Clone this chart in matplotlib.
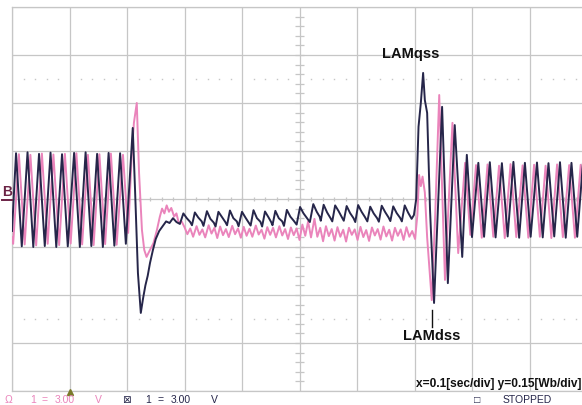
import matplotlib.pyplot as plt
import numpy as np

# scope screen: 0.1 s/div, 0.15 Wb/div
# (time [s], flux [Wb]) vertices of each trace

# dark trace (LAMqss)
dark_pre = [(0.000, -0.100), (0.007, 0.143), (0.017, -0.148), (0.027, 0.146), (0.037, -0.150),
            (0.047, 0.141), (0.057, -0.147), (0.067, 0.145), (0.077, -0.150), (0.087, 0.140),
            (0.097, -0.148), (0.108, 0.144), (0.118, -0.150), (0.128, 0.146), (0.138, -0.147),
            (0.148, 0.141), (0.158, -0.150), (0.168, 0.144), (0.178, -0.146), (0.188, 0.143),
            (0.198, -0.140)]
dark_step = [(0.210, 0.222), (0.214, 0.028), (0.219, -0.231), (0.224, -0.356), (0.228, -0.310),
             (0.232, -0.270), (0.236, -0.240), (0.240, -0.200), (0.245, -0.160), (0.250, -0.125),
             (0.256, -0.100), (0.262, -0.085), (0.268, -0.070), (0.274, -0.075), (0.280, -0.060),
             (0.286, -0.072)]
dark_hold = [(0.292, -0.078), (0.298, -0.045), (0.304, -0.060), (0.310, -0.072),
             (0.313, -0.082), (0.318, -0.042), (0.324, -0.058), (0.330, -0.070),
             (0.333, -0.084), (0.339, -0.038), (0.345, -0.062), (0.351, -0.074),
             (0.354, -0.086), (0.359, -0.040), (0.365, -0.056), (0.371, -0.072),
             (0.374, -0.082), (0.379, -0.036), (0.385, -0.060), (0.391, -0.070),
             (0.394, -0.085), (0.400, -0.040), (0.406, -0.058), (0.412, -0.075),
             (0.415, -0.083), (0.420, -0.035), (0.426, -0.060), (0.432, -0.071),
             (0.435, -0.086), (0.440, -0.039), (0.446, -0.057), (0.451, -0.073),
             (0.453, -0.082), (0.458, -0.037), (0.464, -0.060), (0.470, -0.070),
             (0.473, -0.084), (0.478, -0.034), (0.484, -0.055), (0.490, -0.068),
             (0.495, -0.080), (0.501, -0.025), (0.507, -0.045), (0.513, -0.060),
             (0.518, -0.072), (0.524, -0.016), (0.530, -0.040), (0.535, -0.055),
             (0.537, -0.068), (0.542, -0.018), (0.548, -0.042), (0.554, -0.060),
             (0.557, -0.070), (0.562, -0.020), (0.568, -0.038), (0.574, -0.058),
             (0.577, -0.068), (0.582, -0.022), (0.588, -0.044), (0.594, -0.060),
             (0.597, -0.072), (0.602, -0.019), (0.608, -0.040), (0.614, -0.057),
             (0.618, -0.070), (0.623, -0.024), (0.629, -0.045), (0.635, -0.060),
             (0.638, -0.071), (0.643, -0.021), (0.649, -0.041), (0.655, -0.058),
             (0.658, -0.069), (0.663, -0.023), (0.669, -0.044), (0.675, -0.059),
             (0.678, -0.070), (0.683, -0.020), (0.689, -0.043), (0.695, -0.062),
             (0.699, -0.050)]
dark_swing = [(0.703, 0.000), (0.707, 0.226), (0.711, 0.300), (0.715, 0.394), (0.718, 0.309),
              (0.722, 0.269), (0.727, -0.034), (0.734, -0.325), (0.748, 0.288), (0.758, -0.263),
              (0.770, 0.231), (0.783, -0.181), (0.791, 0.138), (0.800, -0.119)]
dark_post = [(0.811, 0.113), (0.821, -0.118), (0.831, 0.115), (0.841, -0.120), (0.852, 0.112),
             (0.862, -0.117), (0.872, 0.116), (0.882, -0.121), (0.892, 0.113), (0.902, -0.118),
             (0.913, 0.114), (0.923, -0.120), (0.933, 0.112), (0.943, -0.117), (0.953, 0.115),
             (0.963, -0.121), (0.973, 0.113), (0.983, -0.118), (0.993, 0.114), (1.003, -0.120)]

# pink trace (LAMdss)
pink_pre = [(0.000, -0.120), (0.002, -0.140), (0.012, 0.140), (0.022, -0.142), (0.032, 0.138),
            (0.042, -0.145), (0.052, 0.142), (0.062, -0.140), (0.072, 0.139), (0.082, -0.144),
            (0.092, 0.141), (0.102, -0.139), (0.112, 0.143), (0.122, -0.142), (0.132, 0.138),
            (0.142, -0.144), (0.152, 0.140), (0.162, -0.141), (0.172, 0.142), (0.182, -0.143),
            (0.193, 0.138), (0.202, -0.106)]
pink_step = [(0.208, 0.130), (0.212, 0.238), (0.217, 0.300), (0.221, 0.080), (0.226, -0.097),
             (0.230, -0.159), (0.234, -0.181), (0.240, -0.159), (0.246, -0.138), (0.252, -0.097),
             (0.257, -0.056), (0.261, -0.030), (0.265, -0.045), (0.269, -0.020), (0.273, -0.040),
             (0.277, -0.028), (0.282, -0.055), (0.286, -0.045), (0.290, -0.075), (0.295, -0.070)]
pink_hold = [(0.300, -0.088), (0.305, -0.110), (0.310, -0.092), (0.315, -0.118), (0.321, -0.085),
             (0.326, -0.112), (0.331, -0.095), (0.336, -0.120), (0.342, -0.082), (0.347, -0.108),
             (0.352, -0.090), (0.357, -0.122), (0.362, -0.086), (0.367, -0.113), (0.372, -0.094),
             (0.377, -0.119), (0.383, -0.084), (0.388, -0.110), (0.393, -0.092), (0.398, -0.121),
             (0.403, -0.087), (0.408, -0.115), (0.413, -0.093), (0.418, -0.118), (0.424, -0.083),
             (0.429, -0.111), (0.434, -0.096), (0.439, -0.124), (0.444, -0.088), (0.449, -0.112),
             (0.454, -0.090), (0.459, -0.120), (0.465, -0.085), (0.470, -0.114), (0.475, -0.094),
             (0.480, -0.125), (0.485, -0.089), (0.490, -0.113), (0.495, -0.092), (0.500, -0.128),
             (0.505, -0.080), (0.510, -0.115), (0.515, -0.070), (0.520, -0.120), (0.526, -0.062),
             (0.531, -0.118), (0.536, -0.090), (0.541, -0.132), (0.546, -0.085), (0.551, -0.116),
             (0.556, -0.094), (0.561, -0.130), (0.566, -0.088), (0.571, -0.118), (0.576, -0.096),
             (0.581, -0.133), (0.586, -0.090), (0.591, -0.112), (0.596, -0.095), (0.601, -0.128),
             (0.606, -0.087), (0.611, -0.119), (0.616, -0.097), (0.621, -0.131), (0.626, -0.089),
             (0.631, -0.114), (0.636, -0.094), (0.641, -0.127), (0.646, -0.086), (0.651, -0.117),
             (0.656, -0.096), (0.661, -0.130), (0.666, -0.090), (0.671, -0.115), (0.676, -0.095),
             (0.681, -0.128), (0.686, -0.088), (0.691, -0.118), (0.696, -0.100), (0.701, -0.125)]
pink_swing = [(0.705, -0.050), (0.708, 0.075), (0.711, 0.040), (0.714, 0.070), (0.718, 0.020),
              (0.722, -0.120), (0.730, -0.316), (0.736, -0.050), (0.743, 0.325), (0.753, -0.253),
              (0.766, 0.238), (0.776, -0.169), (0.788, 0.113), (0.797, -0.112)]
pink_post = [(0.807, 0.106), (0.817, -0.121), (0.827, 0.108), (0.837, -0.118), (0.847, 0.104),
             (0.857, -0.122), (0.867, 0.109), (0.877, -0.119), (0.888, 0.105), (0.898, -0.121),
             (0.908, 0.107), (0.918, -0.118), (0.928, 0.104), (0.938, -0.122), (0.948, 0.108),
             (0.958, -0.119), (0.969, 0.106), (0.979, -0.121), (0.989, 0.107), (0.999, -0.120)]

dark_t, dark_v = zip(*(dark_pre + dark_step + dark_hold + dark_swing + dark_post))
pink_t, pink_v = zip(*(pink_pre + pink_step + pink_hold + pink_swing + pink_post))

DARK = '#26264a'
PINK = '#ea84bb'
GRID = '#c6c6c6'
FONTS = ['Liberation Sans', 'DejaVu Sans']

fig = plt.figure(figsize=(5.82, 4.05), dpi=100)
# screen runs a little past the right edge of the picture
ax = fig.add_axes([12 / 582, 14 / 405, 575 / 582, 384 / 405])
ax.set_xlim(0, 1.0)
ax.set_ylim(-0.6, 0.6)
ax.set_xticks(np.arange(0, 1.01, 0.1))
ax.set_yticks(np.arange(-0.6, 0.61, 0.15))
ax.tick_params(length=0, labelbottom=False, labelleft=False)
ax.grid(True, color=GRID, lw=0.9)
ax.set_axisbelow(True)
for s in ax.spines.values():
    s.set_color(GRID)
    s.set_linewidth(0.9)

# minor marks on the centre cross
xm = np.arange(0.02, 1.0, 0.02)
ax.vlines(xm, -0.006, 0.006, color=GRID, lw=0.9)
ym = np.arange(-0.57, 0.6, 0.03)
ax.hlines(ym, 0.493, 0.507, color=GRID, lw=0.9)
# dotted rows at +-2.5 div
xd = np.array([x for x in xm if abs(x * 10 - round(x * 10)) > 1e-6])
for yy in (0.375, -0.375):
    ax.plot(xd, np.full(len(xd), yy), ls='none', marker='s', ms=1.0, color=GRID, mec='none')

ax.plot(pink_t, pink_v, color=PINK, lw=1.4, zorder=3)
ax.plot(dark_t, dark_v, color=DARK, lw=1.4, zorder=4)

lab = dict(fontsize=10.5, fontweight='bold', family=FONTS, color='#111111')
ax.text(0.693, 0.453, 'LAMqss', ha='center', va='center', **lab)
ax.text(0.7296, -0.428, 'LAMdss', ha='center', va='center', **lab)
ax.plot([0.730, 0.730], [-0.347, -0.400], color='#111111', lw=1.0, zorder=5)

# trigger mark
ax.plot([0.1], [-0.604], marker='^', ms=4, color='#7a7a2a', clip_on=False, zorder=6)

fig.text(581 / 582, 18 / 405, 'x=0.1[sec/div] y=0.15[Wb/div]', ha='right', va='baseline',
         fontsize=8.6, fontweight='bold', family=FONTS, color='#111111')

# channel marker on the left edge
fig.text(7 / 582, 209 / 405, 'B', ha='center', va='baseline', fontsize=10,
         fontweight='bold', family=FONTS, color='#6b2345')
fig.add_artist(plt.Line2D([2 / 582, 12 / 582], [205 / 405, 205 / 405], color='#6b2345', lw=1.4))

# status row in the thin strip under the screen
st = dict(fontsize=7.5, family=FONTS, va='baseline')
yb = 2 / 405
for x, s in [(5, 'Ω'), (30, '1'), (42, '='), (55, '3.00'), (95, 'V')]:
    fig.text(x / 582, yb, s, color=PINK, **st)
for x, s in [(122, '⊠'), (145, '1'), (158, '='), (171, '3.00'), (211, 'V')]:
    fig.text(x / 582, yb, s, color=DARK, **st)
fig.text(474 / 582, yb, '□', color=DARK, **st)
fig.text(503 / 582, yb, 'STOPPED', color=DARK, **st)

fig.savefig('out.png', dpi=100)
